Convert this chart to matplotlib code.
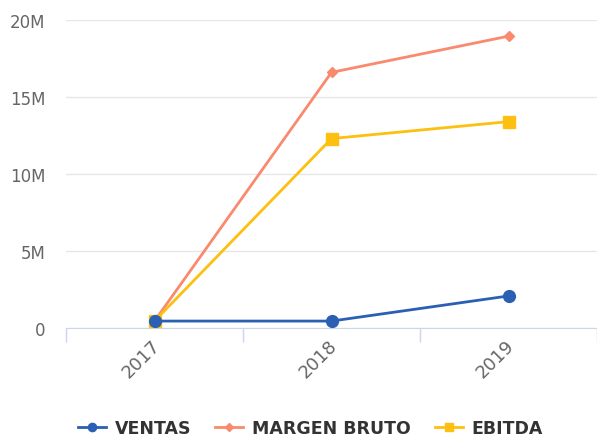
import numpy as np
import matplotlib.pyplot as plt
from matplotlib.ticker import FuncFormatter
from matplotlib.transforms import ScaledTranslation

plt.rcParams["font.family"] = ["DejaVu Sans"]

# ── data ────────────────────────────────────────────────────
years = ["2017", "2018", "2019"]
ventas = [0.45e6, 0.45e6, 2.08e6]
margen_bruto = [0.45e6, 16.6e6, 18.95e6]
ebitda = [0.45e6, 12.3e6, 13.4e6]


def fmt_m(v, pos):
    return "0" if v == 0 else f"{v / 1e6:.0f}M"


fig = plt.figure(figsize=(5.97, 4.39), dpi=100)
ax = fig.add_axes([66 / 597, 110 / 439, 531 / 597, 308 / 439])

x = np.arange(len(years))
ax.plot(x, ventas, color="#2b5fb4", lw=2, marker="o", ms=8.5, label="VENTAS", zorder=5)
ax.plot(x, margen_bruto, color="#fa8a6e", lw=2, marker="D", ms=5.5, label="MARGEN BRUTO", zorder=3)
ax.plot(x, ebitda, color="#fdc010", lw=2, marker="s", ms=9, label="EBITDA", zorder=4)

# axes
ax.set_xlim(-0.5, 2.5)
ax.set_ylim(0, 20e6)
ax.set_yticks([0, 5e6, 10e6, 15e6, 20e6])
ax.yaxis.set_major_formatter(FuncFormatter(fmt_m))
ax.grid(axis="y", color="#e6e6e6", lw=1)
ax.set_axisbelow(True)

ax.set_xticks(x)
ax.set_xticklabels(years, rotation=45, ha="right", rotation_mode="anchor")
ax.set_xticks([-0.5, 0.5, 1.5, 2.5], minor=True)
ax.tick_params(axis="x", which="major", length=0, pad=6, labelsize=13, labelcolor="#666666")
ax.tick_params(axis="x", which="minor", length=10, color="#ccd6eb", width=1)
ax.tick_params(axis="y", length=0, pad=15, labelsize=12, labelcolor="#666666")
shift = ScaledTranslation(-4 / 100, 0, fig.dpi_scale_trans)
for lab in ax.get_xticklabels():
    lab.set_transform(lab.get_transform() + shift)

for s in ["top", "right", "left"]:
    ax.spines[s].set_visible(False)
ax.spines["bottom"].set_color("#ccd6eb")

leg = fig.legend(
    loc="center", bbox_to_anchor=(0.52, 10 / 439), ncol=3, frameon=False,
    prop={"weight": "bold", "size": 12.5}, handlelength=1.6, columnspacing=1.4,
    handletextpad=0.5, markerscale=0.7,
)
for t in leg.get_texts():
    t.set_color("#333333")

fig.savefig("out.png", dpi=100)
